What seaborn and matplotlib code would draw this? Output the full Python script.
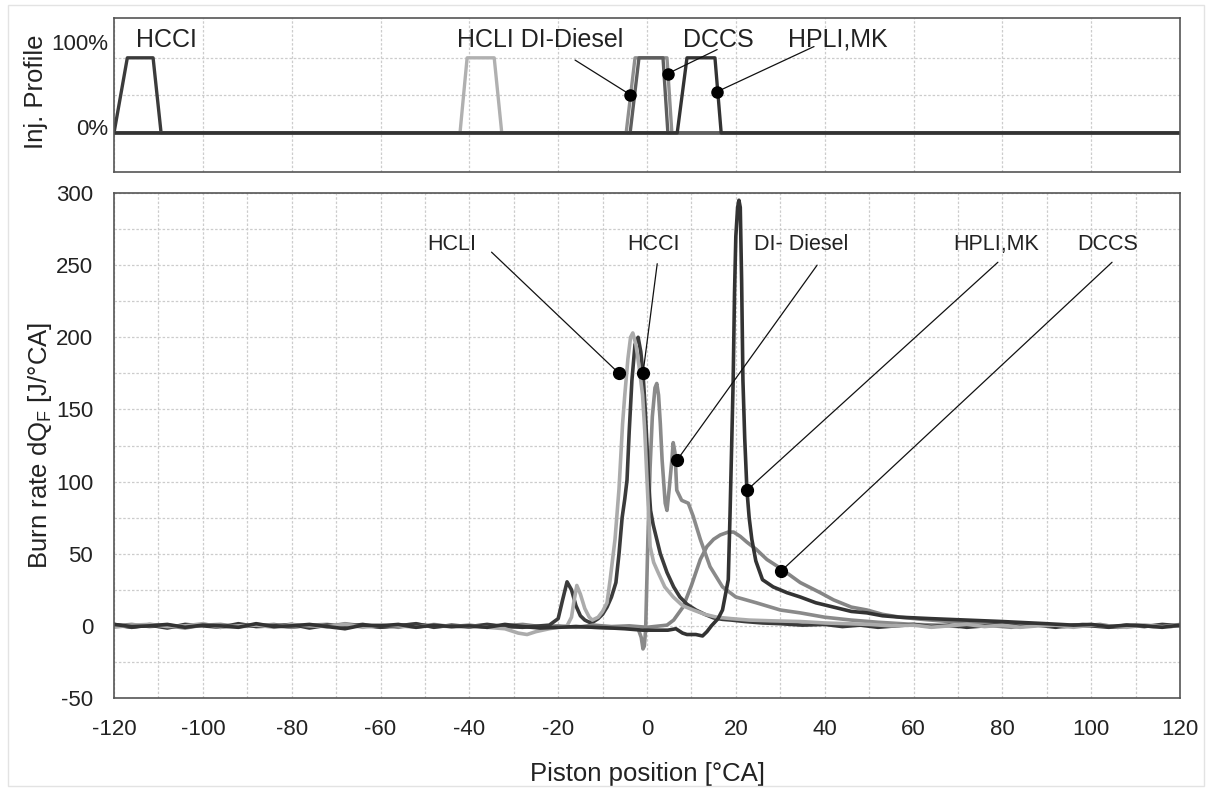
import numpy as np
import pandas as pd
import matplotlib
matplotlib.use("Agg")
import matplotlib.pyplot as plt
import seaborn as sns
from matplotlib.ticker import MultipleLocator, FixedLocator, NullFormatter
from matplotlib.patches import Rectangle

sns.set_theme(style="white")
plt.rcParams['font.family'] = ['Liberation Sans', 'DejaVu Sans']
plt.rcParams['axes.unicode_minus'] = False

# ---------------- data: burn rate curves ----------------
modes = ["DCCS", "DI-Diesel", "HCCI", "HCLI", "HPLI,MK"]

hcci_x = [-120,-116,-112,-108,-104,-100,-96,-92,-88,-84,-80,-76,-72,-68,-64,-60,-56,-52,-48,-44,-40,-36,-32,-28,-24,
          -22,-20,-19,-18,-17,-16,-15,-14,-13,-12,-11,-10,-9,-8,-7,-6.3,-5.6,-5,-4.5,-4,-3.4,-2.7,-2.0,-1.4,-0.9,-0.4,
          0,0.4,0.8,1.4,2.2,3,4.5,6,7.4,9,11,13,15,17,19,22,26,30,35,40,44,48,52,56,60,64,68,72,76,80,84,88,92,96,100,
          104,108,112,116,120]
hcci_y = [1,-1,0.5,-1.5,1,0,-1,1.5,-0.5,0,1,-1.5,0.5,-0.5,1,-1,0,1.5,-1,0.5,-0.5,1,-0.5,-1,0,
          0.5,5,18,30.5,25,14,7,4,2.5,3,5,8,13,20,30,50,75,88,101,135,170,195,200,190,175,150,
          125,98,80,70,60,50,37,27,20,15,11,8,5.5,4.5,4,3,2,1.5,0.5,1,-0.5,0.5,-1,0,1,-0.5,0.5,-1,0,1,-0.5,0.5,-1,0.5,0,
          -1,0.5,-0.5,1,0]

hcli_x = [-120,-116,-112,-108,-104,-100,-96,-92,-88,-84,-80,-76,-72,-68,-64,-60,-56,-52,-48,-44,-40,-36,
          -32,-29,-27,-25,-22,-20,-18,-17,-16.5,-15.8,-15,-14,-13,-12.3,-11,-10,-9,-8.3,-7.2,-6.3,-5.5,-5,-4.3,-3.7,-3.2,
          -2.5,-1.8,-1,-0.5,0,0.4,0.7,1.5,2.5,4,5.9,8,10.4,13,15.7,19,23,28,34.5,40,45,50,55,60,64,68,72,76,80,84,88,92,
          96,100,104,108,112,116,120]
hcli_y = [-1,0.5,1,-0.5,0,1.5,-1,0,0.5,-1,1,0,-0.5,1,-1,0.5,0,-1,1,-0.5,0,-1,
          -2,-5,-6,-4,-2,-1,0,6,16,28,22,12,6,4,6,10,16,32,60,95,140,160,185,200,203,
          195,180,160,135,101,75,55,44,37,27,20,14,11,8,6,5,4,3.5,3,2,1.5,1,0,0.5,-1,0,1,-0.5,0.5,-1,0,0.5,
          -1,0.5,0,-1,0.5,-0.5,0.5]

di_x = [-120,-116,-112,-108,-104,-100,-96,-92,-88,-84,-80,-76,-72,-68,-64,-60,-56,-52,-48,-44,-40,-36,-32,-28,-24,-20,-16,
        -12,-8,-5,-2,-1.3,-0.9,-0.6,-0.3,0.2,0.7,1.2,1.8,2.2,2.6,3,3.4,4.1,4.5,5,5.6,5.9,6.3,6.7,7.8,9.3,10.4,12,14.2,17,
        20,24.6,30,34.5,40,46,52,60,66,70,74,78,82,86,90,94,98,102,106,110,114,118,120]
di_y = [0.5,-1,1,0,-1.5,0.5,1,-0.5,0,1,-1,0.5,-0.5,1.5,0,-1,0.5,1,-0.5,0,-1,0.5,-0.5,0,-1,-1,-0.5,
        -1,-1.5,-1,-2,-8,-16,-14,-2,60,110,145,165,168,160,140,115,85,80,95,115,127,120,94,87,85,76,60,41,27,
        20,16,11,9,6,4,2.5,1,0.5,-0.5,1,0,-1,0.5,1,-0.5,0,1,-1,0.5,0,-0.5,0.5]

dccs_x = [-120,-116,-112,-108,-104,-100,-96,-92,-88,-84,-80,-76,-72,-68,-64,-60,-56,-52,-48,-44,-40,-36,-32,-28,-24,-20,
          -16,-12,-8,-4,0,3,4.5,6,8.1,10,12,13.5,15,16.5,18.3,19.5,21,22.5,24.6,27,30,34.5,39,42,46,49.5,53,57,62,68,75,
          85,90,94,98,102,106,110,114,118,120]
dccs_y = [0,1,-0.5,0.5,-1,1,0,-0.5,1,0,-1,0.5,1,-0.5,0,0.5,-1,1,0,-0.5,0.5,-1,0,1,-0.5,0,
          -1,0.5,-0.5,0,-1,0,0.5,4,13,28,46,55,60,63,65,65,62,58,53,46,40,30,23,18,13,11,8,6,4.5,3,2,
          1,0.5,-0.5,1,0,-1,0.5,-0.5,0,1]

hpli_x = [-120,-116,-112,-108,-104,-100,-96,-92,-88,-84,-80,-76,-72,-68,-64,-60,-56,-52,-48,-44,-40,-36,-32,-28,-24,-20,
          -16,-12,-8,-5,-3,-1,0.7,4.7,6.5,8,9,11,12.5,13.5,14.5,16,17,18.3,18.7,19.1,19.4,19.7,20.0,20.4,20.7,21.0,21.3,
          21.6,22.0,22.5,23.0,23.6,24.5,26,28.4,31.5,34.5,38,42,46,49.5,53,57,64,72,80,90,96,100,104,108,112,116,120]
hpli_y = [1,-0.5,0,1,-1,0.5,0,-1,1.5,-0.5,0,1,-0.5,-2,0.5,0,1,-1,0.5,-0.5,0,-1,1,-0.5,-1.5,-1,
          -0.5,-1,-1.5,-2,-2.5,-3,-3,-3,-2,-5,-6,-6,-7,-4,0,5,11,32,78,130,170,230,270,290,295,290,240,
          170,130,94,75,60,45,32,27,23,20,16,13,10,9,7,6,5,4,3,1.5,0.5,1,-0.5,0.5,0,-1,0.5]

# ---------------- data: injection profiles ----------------
inj_hcci_x = [-120, -117, -111.2, -109.4, 120]
inj_hcci_y = [0, 1, 1, 0, 0]
inj_hcli_x = [-120, -42.1, -40.5, -34.4, -32.7, 120]
inj_hcli_y = [0, 0, 1, 1, 0, 0]
inj_di_x = [-120, -4.7, -2.7, 4.5, 5.6, 120]
inj_di_y = [0, 0, 1, 1, 0, 0]
inj_dccs_x = [-120, -3.8, -1.8, 3.6, 4.7, 120]
inj_dccs_y = [0, 0, 1, 1, 0, 0]
inj_hpli_x = [-120, 6.8, 9.0, 15.3, 16.7, 120]
inj_hpli_y = [0, 0, 1, 1, 0, 0]

# ---------------- annotations ----------------
main_labels = ["HCLI", "HCCI", "DI- Diesel", "HPLI,MK", "DCCS"]
main_label_pos = [(-43.9, 264), (1.4, 264), (34.7, 264), (78.6, 264), (103.8, 264)]
main_leader_start = [(-35, 259), (2.3, 251), (38.3, 250), (79, 252), (104.7, 252)]
main_dots = [(-6.3, 175), (-0.9, 175), (6.8, 115), (22.5, 94), (30.2, 38)]

top_labels = ["HCCI", "HCLI DI-Diesel", "DCCS", "HPLI,MK"]
top_label_pos = [(-108.2, 1.24), (-24.0, 1.24), (16.0, 1.24), (43.0, 1.24)]
top_leader_start = [(-16.2, 0.97), (15.8, 1.11), (37.6, 1.15)]
top_dots = [(-3.8, 0.51), (4.7, 0.79), (15.8, 0.55)]

colors = {"HCCI": "#3b3b3b", "HCLI": "#ababab", "DI-Diesel": "#8a8a8a",
          "DCCS": "#858585", "HPLI,MK": "#333333"}
top_colors = {"HCCI": "#3b3b3b", "HCLI": "#b0b0b0", "DI-Diesel": "#8f8f8f",
              "DCCS": "#5e5e5e", "HPLI,MK": "#333333"}

series = {"HCCI": (hcci_x, hcci_y), "HCLI": (hcli_x, hcli_y), "DI-Diesel": (di_x, di_y),
          "DCCS": (dccs_x, dccs_y), "HPLI,MK": (hpli_x, hpli_y)}
inj = {"HCCI": (inj_hcci_x, inj_hcci_y), "HCLI": (inj_hcli_x, inj_hcli_y),
       "DI-Diesel": (inj_di_x, inj_di_y), "DCCS": (inj_dccs_x, inj_dccs_y),
       "HPLI,MK": (inj_hpli_x, inj_hpli_y)}

df_main = pd.concat([pd.DataFrame({"ca": x, "dq": y, "mode": m}) for m, (x, y) in series.items()],
                    ignore_index=True)
df_inj = pd.concat([pd.DataFrame({"ca": x, "p": y, "mode": m}) for m, (x, y) in inj.items()],
                   ignore_index=True)

# ---------------- figure ----------------
fig = plt.figure(figsize=(12.10, 7.91), dpi=100)
fig.patches.append(Rectangle((8/1210, 5/791), 1196/1210, 781/791, transform=fig.transFigure,
                             fill=False, edgecolor="#e3e3e3", lw=1))
ax_top = fig.add_axes([114/1210, 1-172/791, 1066/1210, 154/791])
ax = fig.add_axes([114/1210, 1-698/791, 1066/1210, 505/791])

grid_kw = dict(color="#cccccc", linestyle=(0, (2, 1.5)), linewidth=0.9)
spine_c = "#555555"

# --- top panel
sns.lineplot(data=df_inj, x="ca", y="p", hue="mode", hue_order=["HCLI", "HCCI", "DI-Diesel", "DCCS", "HPLI,MK"],
             palette=top_colors, estimator=None, sort=False, lw=2.4, legend=False, ax=ax_top)
ax_top.set_xlim(-120, 120)
ax_top.set_ylim(-0.52, 1.53)
ax_top.xaxis.set_major_locator(MultipleLocator(20))
ax_top.xaxis.set_major_formatter(NullFormatter())
ax_top.yaxis.set_major_locator(FixedLocator([0.08, 1.21]))
ax_top.set_yticklabels(["0%", "100%"])
ax_top.yaxis.set_minor_locator(FixedLocator([0, 0.5, 1]))
ax_top.tick_params(axis="both", which="both", length=0, labelsize=16, colors="#222222", pad=4)
ax_top.grid(axis="x", which="major", **grid_kw)
ax_top.grid(axis="y", which="minor", **grid_kw)
ax_top.set_xlabel("")
ax_top.set_ylabel("Inj. Profile", fontsize=18.5, color="#222222")
ax_top.yaxis.set_label_coords(-0.062, 0.52)
for s in ax_top.spines.values():
    s.set_color(spine_c); s.set_linewidth(1.2)

for lab, (tx, ty) in zip(top_labels, top_label_pos):
    ax_top.text(tx, ty, lab, ha="center", va="center", fontsize=18, color="#222222")
for (sx, sy), (dx, dy) in zip(top_leader_start, top_dots):
    ax_top.annotate("", xy=(dx, dy), xytext=(sx, sy),
                    arrowprops=dict(arrowstyle="-", color="#111111", lw=0.9, shrinkA=0, shrinkB=0))
ax_top.plot([d[0] for d in top_dots], [d[1] for d in top_dots], "o", color="black", ms=8, zorder=5)

# --- main panel
sns.lineplot(data=df_main, x="ca", y="dq", hue="mode", hue_order=modes, palette=colors,
             estimator=None, sort=False, lw=2.6, legend=False, ax=ax)
ax.set_xlim(-120, 120)
ax.set_ylim(-50, 300)
ax.xaxis.set_major_locator(MultipleLocator(20))
ax.xaxis.set_minor_locator(MultipleLocator(10))
ax.yaxis.set_major_locator(MultipleLocator(50))
ax.yaxis.set_minor_locator(MultipleLocator(25))
ax.grid(which="both", **grid_kw)
ax.tick_params(axis="both", which="major", direction="out", length=7, width=1, color=spine_c,
               labelsize=16, labelcolor="#222222", pad=8)
ax.tick_params(axis="both", which="minor", length=0)
ax.set_xlabel("Piston position [°CA]", fontsize=18.5, color="#222222")
ax.set_ylabel("Burn rate dQ$_\\mathregular{F}$ [J/°CA]", fontsize=18.5, color="#222222")
ax.xaxis.set_label_coords(0.5, -0.126)
ax.yaxis.set_label_coords(-0.056, 0.5)
for s in ax.spines.values():
    s.set_color(spine_c); s.set_linewidth(1.2)

for lab, (tx, ty) in zip(main_labels, main_label_pos):
    ax.text(tx, ty, lab, ha="center", va="center", fontsize=15.5, color="#222222")
for (sx, sy), (dx, dy) in zip(main_leader_start, main_dots):
    ax.annotate("", xy=(dx, dy), xytext=(sx, sy),
                arrowprops=dict(arrowstyle="-", color="#111111", lw=0.9, shrinkA=0, shrinkB=0))
ax.plot([d[0] for d in main_dots], [d[1] for d in main_dots], "o", color="black", ms=8.5, zorder=5)

fig.savefig("out.png", dpi=100)
